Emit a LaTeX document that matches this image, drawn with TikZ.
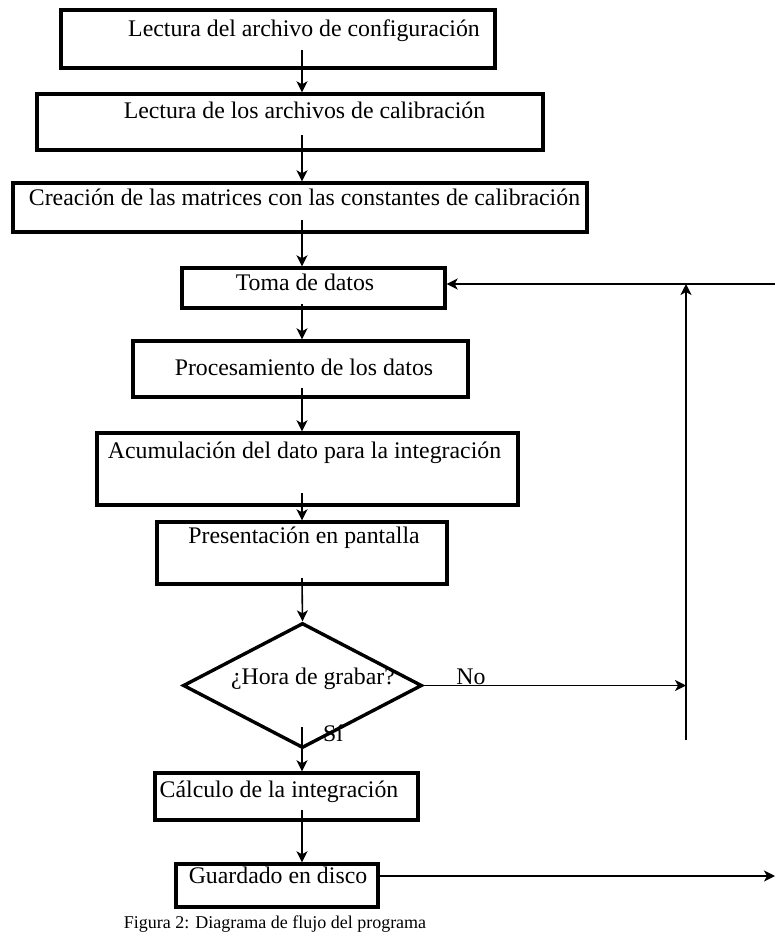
\documentclass[tikz,border=0pt]{standalone}
\usepackage{fontspec}
\setmainfont{Liberation Serif}
\usetikzlibrary{shapes.geometric,arrows.meta,calc}
\begin{document}
\begin{tikzpicture}[x=1pt,y=-1pt,
  box/.style={draw,rectangle,line width=3.4pt,inner sep=0pt},
  txt/.style={anchor=base,inner sep=0pt,font=\fontsize{23.8}{28}\selectfont},
  captxt/.style={anchor=base,inner sep=0pt,font=\fontsize{18}{22}\selectfont},
  arr/.style={line width=1.6pt,-{Stealth[length=11pt,width=11pt,inset=3pt]}}]
\useasboundingbox (0,0) rectangle (775,950);
% boxes
\node[box,minimum width=434pt,minimum height=58pt] (b1) at (278,39) {};
\node[box,minimum width=506pt,minimum height=56pt] (b2) at (290,122) {};
\node[box,minimum width=574pt,minimum height=49pt] (b3) at (300,207.5) {};
\node[box,minimum width=263pt,minimum height=40pt] (b4) at (313.5,288) {};
\node[box,minimum width=335pt,minimum height=56pt] (b5) at (300.5,369) {};
\node[box,minimum width=421pt,minimum height=72pt] (b6) at (307.5,469) {};
\node[box,minimum width=290pt,minimum height=62pt] (b7) at (302,553) {};
\node[draw,diamond,line width=3.4pt,inner sep=0pt,minimum width=239pt,minimum height=125pt] (d) at (302.5,685.5) {};
\node[box,minimum width=263pt,minimum height=47pt] (b8) at (286.5,796.5) {};
\node[box,minimum width=202pt,minimum height=43pt] (b9) at (277,885.5) {};
% texts
\node[txt] (t1) at (304,37) {Lectura del archivo de configuración};
\node[txt] (t2) at (304.5,118) {Lectura de los archivos de calibración};
\node[txt] (t3) at (304.5,205) {Creación de las matrices con las constantes de calibración};
\node[txt] (t4) at (305,290) {Toma de datos};
\node[txt] (t5) at (304,375) {Procesamiento de los datos};
\node[txt] (t6) at (304.5,458) {Acumulación del dato para la integración};
\node[txt] (t7) at (304,543) {Presentación en pantalla};
\node[txt] (td) at (313,684) {¿Hora de grabar?};
\node[txt] (tno) at (471,684) {No};
\node[txt] (tsi) at (333,741) {Sí};
\node[txt] (t8) at (279,797) {Cálculo de la integración};
\node[txt] (t9) at (278,883) {Guardado en disco};
\node[captxt] (tc) at (275,928) {Figura 2: Diagrama de flujo del programa};
% column coordinate
\coordinate (ax) at (302,0);
\coordinate (s1) at (302,50);
\coordinate (s2) at (302,135);
\coordinate (s3) at (302,220);
\coordinate (s4) at (302,304);
\coordinate (s5) at (302,388);
\coordinate (s6) at (302,493);
\coordinate (s7) at (302,578);
\coordinate (s8) at (302,727);
\coordinate (s9) at (302,810);
\coordinate (fbr) at (775,284);
\coordinate (vb) at (686,740);
\coordinate (vt) at (686,284);
\coordinate (outr) at (775,876);
% connectors
\draw[arr] (s1) -- (b2.north -| ax);
\draw[arr] (s2) -- (b3.north -| ax);
\draw[arr] (s3) -- (b4.north -| ax);
\draw[arr] (s4) -- (b5.north -| ax);
\draw[arr] (s5) -- (b6.north -| ax);
\draw[arr] (s6) -- (b7.north -| ax);
\draw[arr] (s7) -- (d.north);
\draw[arr] (s8) -- (b8.north -| ax);
\draw[arr] (s9) -- (b9.north -| ax);
\draw[arr] (fbr) -- (fbr -| b4.east);
\draw[arr] (vb) -- (vt);
\draw[arr] (d.east) -- (d.east -| vb);
\draw[arr] (b9.east |- outr) -- (outr);
\end{tikzpicture}
\end{document}
